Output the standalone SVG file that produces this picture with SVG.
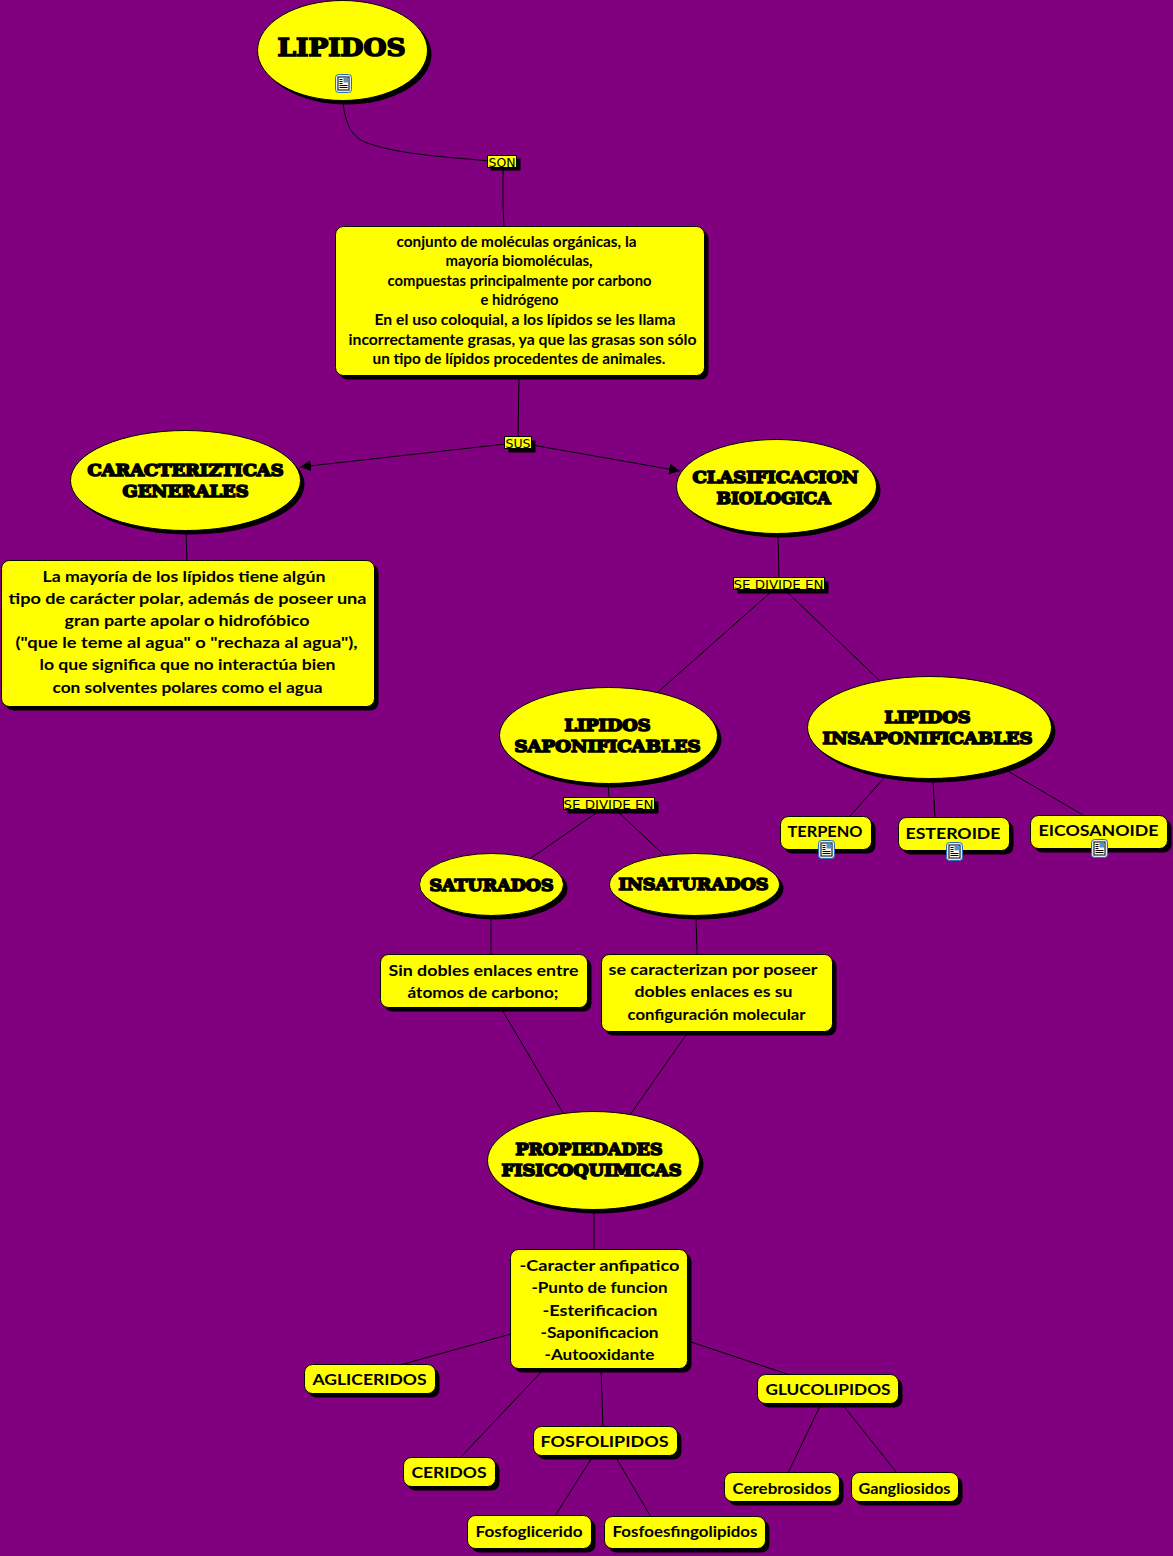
<svg xmlns="http://www.w3.org/2000/svg" xmlns:xlink="http://www.w3.org/1999/xlink" width="1173" height="1556" viewBox="0 0 1173 1556">
<style>
.n{fill:#ff0;stroke:#000;stroke-width:1}
.s{fill:#000;stroke:none}
.t{font-family:"Lato","DejaVu Sans",sans-serif;font-weight:700;fill:#000;font-size:16px}
.b{font-size:15px}
.h{font-family:"DejaVu Serif",serif;font-weight:700;fill:#000;stroke:#000;stroke-width:1.6;font-size:16px}
.l{font-family:"DejaVu Sans",sans-serif;fill:#000;font-size:12px}
.c{fill:none;stroke:#000;stroke-width:1}
</style>
<defs>
<marker id="a" markerUnits="userSpaceOnUse" markerWidth="12" markerHeight="12" refX="11" refY="5.500" orient="auto"><path d="M0 0L11 5.500L0 11Z" fill="#000"/></marker>
<g id="i"><rect x="-8" y="-9" width="16" height="18" rx="3" fill="#dcebfa" stroke="#2a6fb5" stroke-width="1"/><rect x="-5.500" y="-6.500" width="11" height="13" fill="#fbf8e4" stroke="#000" stroke-width="1"/><path d="M-4-4H-1M-4-2H-1M-4 0H-1M-4 2H4M-4 4H4" stroke="#000" stroke-width="1"/><rect x="0" y="-5.500" width="4.500" height="4.500" fill="#5a8fd0"/></g>
</defs>
<rect width="1173" height="1556" fill="#800080"/>
<g id="connectors">
<path class="c" d="M343 101C345 125 352 137 367 143C400 155 450 157 489 161"/>
<path class="c" d="M503 170L503 205L504 227"/>
<path class="c" d="M519 376L518 437"/>
<path class="c" marker-end="url(#a)" d="M506 444L300 467"/>
<path class="c" marker-end="url(#a)" d="M532 445L680 471"/>
<path class="c" d="M186 530L187 561"/>
<path class="c" d="M778 535L779 578"/>
<path class="c" d="M771 592L658 692"/>
<path class="c" d="M787 592L880 681"/>
<path class="c" d="M608 783L609 798"/>
<path class="c" d="M599 811L531 858"/>
<path class="c" d="M617 811L664 855"/>
<path class="c" d="M884 778L850 816"/>
<path class="c" d="M933 780L935 818"/>
<path class="c" d="M1006 770L1083 815"/>
<path class="c" d="M491 914L491 955"/>
<path class="c" d="M696 914L697 955"/>
<path class="c" d="M501 1008L563 1113"/>
<path class="c" d="M688 1032L630 1115"/>
<path class="c" d="M594 1208L594 1250"/>
<path class="c" d="M511 1334L400 1365"/>
<path class="c" d="M544 1369L460 1458"/>
<path class="c" d="M601 1369L603 1427"/>
<path class="c" d="M688 1341L790 1375"/>
<path class="c" d="M593 1456L555 1516"/>
<path class="c" d="M615 1456L651 1517"/>
<path class="c" d="M821 1404L788 1473"/>
<path class="c" d="M842 1404L897 1473"/>
</g>
<g transform="translate(-0.5 -0.5)">
<g id="n-lipidos"><ellipse class="s" cx="347" cy="55" rx="85" ry="50"/><ellipse class="n" cx="343" cy="51" rx="85" ry="50"/><text class="h" x="278" y="56" style="font-size:24px" textLength="128" lengthAdjust="spacingAndGlyphs">LIPIDOS</text><use xlink:href="#i" href="#i" x="344" y="84"/></g>
<g id="l-son"><rect class="s" x="491" y="159" width="30" height="12"/><rect class="n" x="488" y="156" width="29" height="12"/><text class="l" x="489" y="167" textLength="27" lengthAdjust="spacingAndGlyphs">SON</text></g>
<g id="n-conjunto"><rect class="s" x="340" y="231" width="369" height="149" rx="8"/><rect class="n" x="336" y="227" width="369" height="149" rx="8"/>
<text class="t b" x="397" y="247" textLength="240" lengthAdjust="spacingAndGlyphs">conjunto de moléculas orgánicas, la</text>
<text class="t b" x="446" y="266" textLength="147" lengthAdjust="spacingAndGlyphs">mayoría biomoléculas,</text>
<text class="t b" x="388" y="286" textLength="264" lengthAdjust="spacingAndGlyphs">compuestas principalmente por carbono</text>
<text class="t b" x="481" y="305" textLength="78" lengthAdjust="spacingAndGlyphs">e hidrógeno</text>
<text class="t b" x="375" y="325" textLength="301" lengthAdjust="spacingAndGlyphs">En el uso coloquial, a los lípidos se les llama</text>
<text class="t b" x="349" y="345" textLength="348" lengthAdjust="spacingAndGlyphs">incorrectamente grasas, ya que las grasas son sólo</text>
<text class="t b" x="373" y="364" textLength="293" lengthAdjust="spacingAndGlyphs">un tipo de lípidos procedentes de animales.</text></g>
<g id="l-sus"><rect class="s" x="509" y="441" width="27" height="12"/><rect class="n" x="505" y="437" width="27" height="12"/><text class="l" x="506" y="448" textLength="25" lengthAdjust="spacingAndGlyphs">SUS</text></g>
<g id="n-caracterizticas"><ellipse class="s" cx="190" cy="485" rx="115" ry="50"/><ellipse class="n" cx="186" cy="481" rx="115" ry="50"/><text class="h" x="88" y="476" textLength="196" lengthAdjust="spacingAndGlyphs">CARACTERIZTICAS</text><text class="h" x="123" y="497" textLength="126" lengthAdjust="spacingAndGlyphs">GENERALES</text></g>
<g id="n-clasificacion"><ellipse class="s" cx="781" cy="491" rx="100" ry="47"/><ellipse class="n" cx="777" cy="487" rx="100" ry="47"/><text class="h" x="693" y="483" textLength="166" lengthAdjust="spacingAndGlyphs">CLASIFICACION</text><text class="h" x="717" y="504" textLength="114" lengthAdjust="spacingAndGlyphs">BIOLOGICA</text></g>
<g id="n-mayoria"><rect class="s" x="6" y="565" width="373" height="146" rx="8"/><rect class="n" x="2" y="561" width="373" height="146" rx="8"/>
<text class="t" x="43" y="582" textLength="283" lengthAdjust="spacingAndGlyphs">La mayoría de los lípidos tiene algún</text>
<text class="t" x="9" y="604" textLength="358" lengthAdjust="spacingAndGlyphs">tipo de carácter polar, además de poseer una</text>
<text class="t" x="65" y="626" textLength="245" lengthAdjust="spacingAndGlyphs">gran parte apolar o hidrofóbico</text>
<text class="t" x="16" y="648" textLength="342" lengthAdjust="spacingAndGlyphs">("que le teme al agua" o "rechaza al agua"),</text>
<text class="t" x="40" y="670" textLength="296" lengthAdjust="spacingAndGlyphs">lo que significa que no interactúa bien</text>
<text class="t" x="53" y="693" textLength="270" lengthAdjust="spacingAndGlyphs">con solventes polares como el agua</text></g>
<g id="l-divide1"><rect class="s" x="738" y="582" width="91" height="12"/><rect class="n" x="734" y="578" width="91" height="12"/><text class="l" x="734" y="589" textLength="90" lengthAdjust="spacingAndGlyphs">SE DIVIDE EN</text></g>
<g id="n-saponificables"><ellipse class="s" cx="613" cy="740" rx="109" ry="48"/><ellipse class="n" cx="609" cy="736" rx="109" ry="48"/><text class="h" x="565" y="731" textLength="86" lengthAdjust="spacingAndGlyphs">LIPIDOS</text><text class="h" x="515" y="752" textLength="186" lengthAdjust="spacingAndGlyphs">SAPONIFICABLES</text></g>
<g id="n-insaponificables"><ellipse class="s" cx="934" cy="732" rx="122" ry="51"/><ellipse class="n" cx="930" cy="728" rx="122" ry="51"/><text class="h" x="885" y="723" textLength="86" lengthAdjust="spacingAndGlyphs">LIPIDOS</text><text class="h" x="823" y="744" textLength="210" lengthAdjust="spacingAndGlyphs">INSAPONIFICABLES</text></g>
<g id="l-divide2"><rect class="s" x="568" y="802" width="91" height="12"/><rect class="n" x="564" y="798" width="91" height="12"/><text class="l" x="564" y="809" textLength="90" lengthAdjust="spacingAndGlyphs">SE DIVIDE EN</text></g>
<g id="n-terpeno"><rect class="s" x="785" y="821" width="91" height="33" rx="8"/><rect class="n" x="781" y="817" width="91" height="33" rx="8"/><text class="t" x="788" y="837" textLength="75" lengthAdjust="spacingAndGlyphs">TERPENO</text><use xlink:href="#i" href="#i" x="827" y="850"/></g>
<g id="n-esteroide"><rect class="s" x="903" y="822" width="111" height="33" rx="8"/><rect class="n" x="899" y="818" width="111" height="33" rx="8"/><text class="t" x="906" y="839" textLength="95" lengthAdjust="spacingAndGlyphs">ESTEROIDE</text><use xlink:href="#i" href="#i" x="955" y="852"/></g>
<g id="n-eicosanoide"><rect class="s" x="1035" y="820" width="137" height="33" rx="8"/><rect class="n" x="1031" y="816" width="137" height="33" rx="8"/><text class="t" x="1039" y="836" textLength="120" lengthAdjust="spacingAndGlyphs">EICOSANOIDE</text><use xlink:href="#i" href="#i" x="1100" y="849"/></g>
<g id="n-saturados"><ellipse class="s" cx="496" cy="889" rx="72" ry="31"/><ellipse class="n" cx="492" cy="885" rx="72" ry="31"/><text class="h" x="430" y="891" textLength="124" lengthAdjust="spacingAndGlyphs">SATURADOS</text></g>
<g id="n-insaturados"><ellipse class="s" cx="699" cy="889" rx="85" ry="31"/><ellipse class="n" cx="695" cy="885" rx="85" ry="31"/><text class="h" x="619" y="890" textLength="150" lengthAdjust="spacingAndGlyphs">INSATURADOS</text></g>
<g id="n-sin"><rect class="s" x="385" y="959" width="207" height="53" rx="8"/><rect class="n" x="381" y="955" width="207" height="53" rx="8"/><text class="t" x="389" y="976" textLength="190" lengthAdjust="spacingAndGlyphs">Sin dobles enlaces entre</text><text class="t" x="408" y="998" textLength="151" lengthAdjust="spacingAndGlyphs">átomos de carbono;</text></g>
<g id="n-se"><rect class="s" x="606" y="959" width="231" height="77" rx="8"/><rect class="n" x="602" y="955" width="231" height="77" rx="8"/><text class="t" x="609" y="975" textLength="209" lengthAdjust="spacingAndGlyphs">se caracterizan por poseer</text><text class="t" x="635" y="997" textLength="158" lengthAdjust="spacingAndGlyphs">dobles enlaces es su</text><text class="t" x="628" y="1020" textLength="178" lengthAdjust="spacingAndGlyphs">configuración molecular</text></g>
<g id="n-propiedades"><ellipse class="s" cx="598" cy="1165" rx="106" ry="49"/><ellipse class="n" cx="594" cy="1161" rx="106" ry="49"/><text class="h" x="516" y="1155" textLength="147" lengthAdjust="spacingAndGlyphs">PROPIEDADES</text><text class="h" x="502" y="1176" textLength="180" lengthAdjust="spacingAndGlyphs">FISICOQUIMICAS</text></g>
<g id="n-caracter"><rect class="s" x="515" y="1254" width="177" height="119" rx="8"/><rect class="n" x="511" y="1250" width="177" height="119" rx="8"/>
<text class="t" x="520" y="1271" textLength="160" lengthAdjust="spacingAndGlyphs">-Caracter anfipatico</text>
<text class="t" x="532" y="1293" textLength="136" lengthAdjust="spacingAndGlyphs">-Punto de funcion</text>
<text class="t" x="543" y="1316" textLength="115" lengthAdjust="spacingAndGlyphs">-Esterificacion</text>
<text class="t" x="541" y="1338" textLength="118" lengthAdjust="spacingAndGlyphs">-Saponificacion</text>
<text class="t" x="545" y="1360" textLength="110" lengthAdjust="spacingAndGlyphs">-Autooxidante</text></g>
<g id="n-aglicerido"><rect class="s" x="309" y="1369" width="131" height="29" rx="8"/><rect class="n" x="305" y="1365" width="131" height="29" rx="8"/><text class="t" x="313" y="1385" textLength="114" lengthAdjust="spacingAndGlyphs">AGLICERIDOS</text></g>
<g id="n-glucolipidos"><rect class="s" x="762" y="1379" width="141" height="29" rx="8"/><rect class="n" x="758" y="1375" width="141" height="29" rx="8"/><text class="t" x="766" y="1395" textLength="125" lengthAdjust="spacingAndGlyphs">GLUCOLIPIDOS</text></g>
<g id="n-fosfolipidos"><rect class="s" x="538" y="1431" width="144" height="29" rx="8"/><rect class="n" x="534" y="1427" width="144" height="29" rx="8"/><text class="t" x="541" y="1447" textLength="128" lengthAdjust="spacingAndGlyphs">FOSFOLIPIDOS</text></g>
<g id="n-ceridos"><rect class="s" x="408" y="1462" width="92" height="29" rx="8"/><rect class="n" x="404" y="1458" width="92" height="29" rx="8"/><text class="t" x="412" y="1478" textLength="75" lengthAdjust="spacingAndGlyphs">CERIDOS</text></g>
<g id="n-cerebrosidos"><rect class="s" x="729" y="1477" width="115" height="29" rx="8"/><rect class="n" x="725" y="1473" width="115" height="29" rx="8"/><text class="t" x="733" y="1494" textLength="99" lengthAdjust="spacingAndGlyphs">Cerebrosidos</text></g>
<g id="n-gangliosidos"><rect class="s" x="856" y="1477" width="107" height="29" rx="8"/><rect class="n" x="852" y="1473" width="107" height="29" rx="8"/><text class="t" x="859" y="1494" textLength="92" lengthAdjust="spacingAndGlyphs">Gangliosidos</text></g>
<g id="n-fosfoglicerido"><rect class="s" x="472" y="1520" width="124" height="33" rx="8"/><rect class="n" x="468" y="1516" width="124" height="33" rx="8"/><text class="t" x="476" y="1537" textLength="107" lengthAdjust="spacingAndGlyphs">Fosfoglicerido</text></g>
<g id="n-fosfoesfingolipidos"><rect class="s" x="609" y="1521" width="161" height="32" rx="8"/><rect class="n" x="605" y="1517" width="161" height="32" rx="8"/><text class="t" x="613" y="1537" textLength="145" lengthAdjust="spacingAndGlyphs">Fosfoesfingolipidos</text></g>
</g>
</svg>
